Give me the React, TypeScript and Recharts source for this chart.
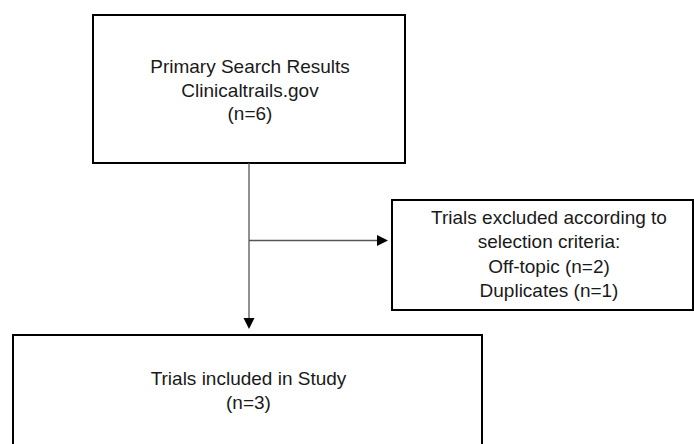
import React from 'react';
import {
  ScatterChart,
  Scatter,
  XAxis,
  YAxis,
  ReferenceArea,
  ReferenceLine,
} from 'recharts';

// flow boxes, in page pixel units (y grows downward)
const BOXES = [
  { id: 'search', x1: 93, x2: 405, y1: 15, y2: 163 },
  { id: 'excluded', x1: 392, x2: 693, y1: 200, y2: 310 },
  { id: 'included', x1: 13, x2: 482, y1: 335, y2: 450 },
];

const SEARCH_LINES = ['Primary Search Results', 'Clinicaltrails.gov', '(n=6)'];
const EXCLUDED_LINES = [
  'Trials excluded according to',
  'selection criteria:',
  'Off-topic (n=2)',
  'Duplicates (n=1)',
];
const INCLUDED_LINES = ['Trials included in Study', '(n=3)'];

// connectors
const CONNECTORS = [
  { id: 'down', from: { x: 249, y: 163 }, to: { x: 249, y: 318 } },
  { id: 'side', from: { x: 249, y: 240.5 }, to: { x: 378, y: 240.5 } },
];

const ARROWS = [
  { x: 249, y: 329, dir: 'down' },
  { x: 388, y: 240.5, dir: 'right' },
];

const LINE_GAP = 23.7;

const textRows = [
  ...SEARCH_LINES.map((t, i) => ({ x: 250, y: 73 + i * LINE_GAP, text: t })),
  ...EXCLUDED_LINES.map((t, i) => ({ x: 549, y: 224 + i * 24.3, text: t })),
  ...INCLUDED_LINES.map((t, i) => ({ x: 248.5, y: 385 + i * LINE_GAP, text: t })),
];

const TextShape = (props: any) => {
  const { cx, cy, payload } = props;
  return (
    <text
      x={cx}
      y={cy}
      textAnchor="middle"
      fontFamily="'Liberation Sans', Arial, sans-serif"
      fontSize={19}
      fill="#1a1a1a"
    >
      {payload.text}
    </text>
  );
};

const ArrowShape = (props: any) => {
  const { cx, cy, payload } = props;
  const pts =
    payload.dir === 'down'
      ? `${cx - 5.5},${cy - 11} ${cx + 5.5},${cy - 11} ${cx},${cy}`
      : `${cx - 11},${cy - 5.5} ${cx - 11},${cy + 5.5} ${cx},${cy}`;
  return <polygon points={pts} fill="#000" />;
};

const App: React.FC = () => {
  return (
    <div style={{ position: 'fixed', left: 0, top: 0, background: '#fff' }}>
      <ScatterChart width={694} height={444} margin={{ top: 0, right: 0, bottom: 0, left: 0 }}>
        <XAxis type="number" dataKey="x" domain={[0, 694]} hide />
        <YAxis type="number" dataKey="y" domain={[0, 444]} reversed hide />

        {BOXES.map((b) => (
          <ReferenceArea
            key={b.id}
            x1={b.x1}
            x2={b.x2}
            y1={b.y1}
            y2={b.y2}
            fill="#fff"
            fillOpacity={1}
            stroke="#000"
            strokeWidth={2}
            ifOverflow="visible"
          />
        ))}

        {CONNECTORS.map((c) => (
          <ReferenceLine
            key={c.id}
            segment={[c.from, c.to]}
            stroke="#555"
            strokeWidth={1.3}
            ifOverflow="visible"
          />
        ))}

        <Scatter data={ARROWS} shape={ArrowShape} isAnimationActive={false} />
        <Scatter data={textRows} shape={TextShape} isAnimationActive={false} />
      </ScatterChart>
    </div>
  );
};

export default App;
